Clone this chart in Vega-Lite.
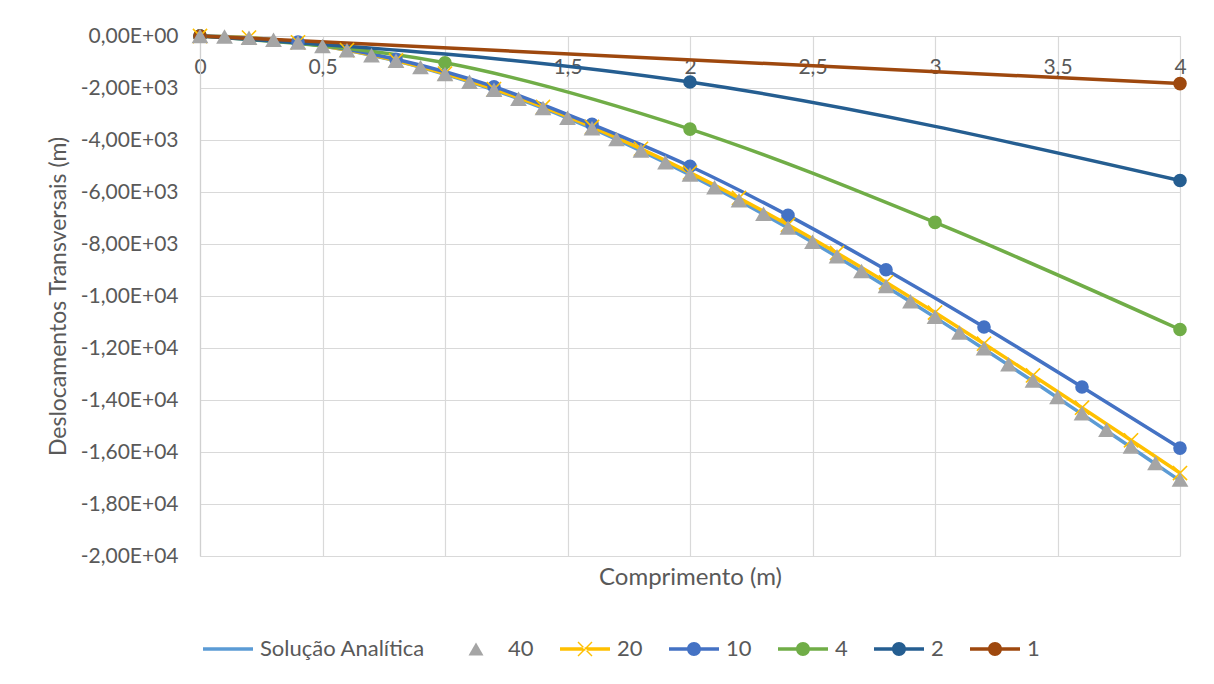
{
  "$schema": "https://vega.github.io/schema/vega-lite/v6.json",
  "width": 980,
  "height": 520,
  "autosize": {"type": "none"},
  "padding": {"left": 200, "top": 36, "right": 34, "bottom": 128},
  "background": "white",
  "config": {
    "view": {"stroke": null},
    "font": "Lato",
    "axis": {"gridColor": "#d9d9d9", "gridWidth": 1.2, "domainColor": "#d0d0d0", "domainWidth": 1.2, "labelColor": "#595959", "titleColor": "#595959", "titleFontWeight": "normal"}
  },
  "data": {"values": [
    {"series":"Solução Analítica","x":0,"y":0},{"series":"Solução Analítica","x":0.1,"y":-16},{"series":"Solução Analítica","x":0.2,"y":-63},{"series":"Solução Analítica","x":0.3,"y":-141},{"series":"Solução Analítica","x":0.4,"y":-248},{"series":"Solução Analítica","x":0.5,"y":-384},{"series":"Solução Analítica","x":0.6,"y":-548},{"series":"Solução Analítica","x":0.7,"y":-740},{"series":"Solução Analítica","x":0.8,"y":-958},{"series":"Solução Analítica","x":0.9,"y":-1201},{"series":"Solução Analítica","x":1.0,"y":-1470},{"series":"Solução Analítica","x":1.1,"y":-1762},{"series":"Solução Analítica","x":1.2,"y":-2078},{"series":"Solução Analítica","x":1.3,"y":-2416},{"series":"Solução Analítica","x":1.4,"y":-2776},{"series":"Solução Analítica","x":1.5,"y":-3156},{"series":"Solução Analítica","x":1.6,"y":-3557},{"series":"Solução Analítica","x":1.7,"y":-3977},{"series":"Solução Analítica","x":1.8,"y":-4415},{"series":"Solução Analítica","x":1.9,"y":-4871},{"series":"Solução Analítica","x":2.0,"y":-5344},{"series":"Solução Analítica","x":2.1,"y":-5833},{"series":"Solução Analítica","x":2.2,"y":-6337},{"series":"Solução Analítica","x":2.3,"y":-6855},{"series":"Solução Analítica","x":2.4,"y":-7388},{"series":"Solução Analítica","x":2.5,"y":-7933},{"series":"Solução Analítica","x":2.6,"y":-8490},{"series":"Solução Analítica","x":2.7,"y":-9058},{"series":"Solução Analítica","x":2.8,"y":-9636},{"series":"Solução Analítica","x":2.9,"y":-10225},{"series":"Solução Analítica","x":3.0,"y":-10822},{"series":"Solução Analítica","x":3.1,"y":-11427},{"series":"Solução Analítica","x":3.2,"y":-12039},{"series":"Solução Analítica","x":3.3,"y":-12658},{"series":"Solução Analítica","x":3.4,"y":-13282},{"series":"Solução Analítica","x":3.5,"y":-13911},{"series":"Solução Analítica","x":3.6,"y":-14544},{"series":"Solução Analítica","x":3.7,"y":-15181},{"series":"Solução Analítica","x":3.8,"y":-15819},{"series":"Solução Analítica","x":3.9,"y":-16460},{"series":"Solução Analítica","x":4.0,"y":-17101},
    {"series":"40","x":0,"y":0},{"series":"40","x":0.1,"y":-16},{"series":"40","x":0.2,"y":-63},{"series":"40","x":0.3,"y":-140},{"series":"40","x":0.4,"y":-247},{"series":"40","x":0.5,"y":-383},{"series":"40","x":0.6,"y":-546},{"series":"40","x":0.7,"y":-737},{"series":"40","x":0.8,"y":-955},{"series":"40","x":0.9,"y":-1197},{"series":"40","x":1.0,"y":-1465},{"series":"40","x":1.1,"y":-1757},{"series":"40","x":1.2,"y":-2071},{"series":"40","x":1.3,"y":-2409},{"series":"40","x":1.4,"y":-2768},{"series":"40","x":1.5,"y":-3148},{"series":"40","x":1.6,"y":-3547},{"series":"40","x":1.7,"y":-3966},{"series":"40","x":1.8,"y":-4403},{"series":"40","x":1.9,"y":-4858},{"series":"40","x":2.0,"y":-5330},{"series":"40","x":2.1,"y":-5818},{"series":"40","x":2.2,"y":-6321},{"series":"40","x":2.3,"y":-6838},{"series":"40","x":2.4,"y":-7369},{"series":"40","x":2.5,"y":-7913},{"series":"40","x":2.6,"y":-8469},{"series":"40","x":2.7,"y":-9036},{"series":"40","x":2.8,"y":-9613},{"series":"40","x":2.9,"y":-10200},{"series":"40","x":3.0,"y":-10796},{"series":"40","x":3.1,"y":-11400},{"series":"40","x":3.2,"y":-12011},{"series":"40","x":3.3,"y":-12629},{"series":"40","x":3.4,"y":-13252},{"series":"40","x":3.5,"y":-13880},{"series":"40","x":3.6,"y":-14512},{"series":"40","x":3.7,"y":-15147},{"series":"40","x":3.8,"y":-15784},{"series":"40","x":3.9,"y":-16423},{"series":"40","x":4.0,"y":-17062},
    {"series":"20","x":0,"y":0},{"series":"20","x":0.2,"y":-62},{"series":"20","x":0.4,"y":-244},{"series":"20","x":0.6,"y":-539},{"series":"20","x":0.8,"y":-941},{"series":"20","x":1.0,"y":-1445},{"series":"20","x":1.2,"y":-2042},{"series":"20","x":1.4,"y":-2729},{"series":"20","x":1.6,"y":-3496},{"series":"20","x":1.8,"y":-4340},{"series":"20","x":2.0,"y":-5253},{"series":"20","x":2.2,"y":-6229},{"series":"20","x":2.4,"y":-7262},{"series":"20","x":2.6,"y":-8345},{"series":"20","x":2.8,"y":-9473},{"series":"20","x":3.0,"y":-10638},{"series":"20","x":3.2,"y":-11834},{"series":"20","x":3.4,"y":-13056},{"series":"20","x":3.6,"y":-14297},{"series":"20","x":3.8,"y":-15550},{"series":"20","x":4.0,"y":-16810},
    {"series":"10","x":0,"y":0},{"series":"10","x":0.4,"y":-232},{"series":"10","x":0.8,"y":-895},{"series":"10","x":1.2,"y":-1950},{"series":"10","x":1.6,"y":-3400},{"series":"10","x":2.0,"y":-5010},{"series":"10","x":2.4,"y":-6900},{"series":"10","x":2.8,"y":-8990},{"series":"10","x":3.2,"y":-11190},{"series":"10","x":3.6,"y":-13500},{"series":"10","x":4.0,"y":-15850},
    {"series":"4","x":0,"y":0},{"series":"4","x":1.0,"y":-1030},{"series":"4","x":2.0,"y":-3580},{"series":"4","x":3.0,"y":-7170},{"series":"4","x":4.0,"y":-11290},
    {"series":"2","x":0,"y":0},{"series":"2","x":2.0,"y":-1770},{"series":"2","x":4.0,"y":-5560},
    {"series":"1","x":0,"y":0},{"series":"1","x":4.0,"y":-1830}
  ]},
  "encoding": {
    "x": {"field": "x", "type": "quantitative", "scale": {"domain": [0, 4], "nice": false, "zero": false},
      "axis": {"orient": "top", "values": [0, 0.5, 1, 1.5, 2, 2.5, 3, 3.5, 4], "ticks": false, "tickSize": 0, "labelPadding": -31, "labelBaseline": "middle", "labelFlush": false, "labelFontSize": 21,
        "labelExpr": "replace(toString(datum.value), '.', ',')",
        "title": "Comprimento (m)", "titleFontSize": 24, "titleX": 490, "titleY": 541, "titleBaseline": "middle", "titleAnchor": "middle"}},
    "y": {"field": "y", "type": "quantitative", "scale": {"domain": [-20000, 0], "nice": false, "zero": false},
      "axis": {"values": [-20000, -18000, -16000, -14000, -12000, -10000, -8000, -6000, -4000, -2000, 0], "ticks": false, "tickSize": 0, "labelPadding": 22, "labelFontSize": 21,
        "labelExpr": "datum.value == 0 ? '0,00E+00' : (datum.value < 0 ? '-' : '') + replace(format(abs(datum.value) / (abs(datum.value) >= 10000 ? 10000 : 1000), '.2f'), '.', ',') + (abs(datum.value) >= 10000 ? 'E+04' : 'E+03')",
        "title": "Deslocamentos Transversais (m)", "titleFontSize": 23, "titleX": -142, "titleY": 260, "titleBaseline": "middle", "titleAngle": -90}}
  },
  "layer": [
    {
      "transform": [{"filter": "datum.series != '40'"}],
      "mark": {"type": "line", "interpolate": "monotone", "strokeWidth": 3.5},
      "encoding": {
        "stroke": {"field": "series", "type": "nominal",
          "scale": {"domain": ["Solução Analítica", "20", "10", "4", "2", "1"], "range": ["#5B9BD5", "#FFC000", "#4472C4", "#70AD47", "#255E91", "#9E480E"]},
          "legend": null},
        "order": {"field": "x", "type": "quantitative"}
      }
    },
    {
      "transform": [{"filter": "datum.series == '10' || datum.series == '4' || datum.series == '2' || datum.series == '1'"}],
      "mark": {"type": "point", "shape": "circle", "filled": true, "opacity": 1, "size": 185},
      "encoding": {
        "fill": {"field": "series", "type": "nominal",
          "scale": {"domain": ["10", "4", "2", "1"], "range": ["#4472C4", "#70AD47", "#255E91", "#9E480E"]},
          "legend": null}
      }
    },
    {
      "transform": [{"filter": "datum.series == '20'"}],
      "mark": {"type": "point", "shape": "M-1,-1L1,1M-1,1L1,-1", "filled": false, "opacity": 1, "size": 200, "strokeWidth": 1.6, "color": "#FFC000"},
      "encoding": {}
    },
    {
      "transform": [{"filter": "datum.series == '40'"}],
      "mark": {"type": "point", "shape": "triangle-up", "filled": true, "opacity": 1, "size": 280, "color": "#A5A5A5"},
      "encoding": {}
    },
    {
      "transform": [{"filter": "datum.x == 0"}],
      "mark": {"type": "point", "filled": true, "opacity": 0},
      "encoding": {
        "color": {"field": "series", "type": "nominal",
          "scale": {"domain": ["Solução Analítica", "40", "20", "10", "4", "2", "1"], "range": ["#5B9BD5", "#A5A5A5", "#FFC000", "#4472C4", "#70AD47", "#255E91", "#9E480E"]},
          "legend": {"orient": "none", "legendX": 3, "legendY": 588, "direction": "horizontal", "title": null, "symbolSize": 2500, "symbolStrokeWidth": 0, "labelFontSize": 22, "labelColor": "#595959", "columnPadding": 26, "labelOffset": 7, "labelLimit": 0, "symbolOpacity": 1}},
        "shape": {"field": "series", "type": "nominal",
          "scale": {"domain": ["Solução Analítica", "40", "20", "10", "4", "2", "1"], "range": [
            "M-1,-0.07H1V0.07H-1Z",
            "M0,-0.26L0.3,0.26L-0.3,0.26Z",
            "M-1,-0.07H1V0.07H-1Z M-0.3,-0.26L0.26,0.3L0.3,0.26L-0.26,-0.3Z M-0.3,0.26L0.26,-0.3L0.3,-0.26L-0.26,0.3Z",
            "M-1,-0.07H1V0.07H-1Z M0.28,0A0.28,0.28 0 1,1 -0.28,0A0.28,0.28 0 1,1 0.28,0Z",
            "M-1,-0.07H1V0.07H-1Z M0.28,0A0.28,0.28 0 1,1 -0.28,0A0.28,0.28 0 1,1 0.28,0Z",
            "M-1,-0.07H1V0.07H-1Z M0.28,0A0.28,0.28 0 1,1 -0.28,0A0.28,0.28 0 1,1 0.28,0Z",
            "M-1,-0.07H1V0.07H-1Z M0.28,0A0.28,0.28 0 1,1 -0.28,0A0.28,0.28 0 1,1 0.28,0Z"
          ]},
          "legend": {"orient": "none", "legendX": 3, "legendY": 588, "direction": "horizontal", "title": null, "symbolSize": 2500, "symbolStrokeWidth": 0, "labelFontSize": 22, "labelColor": "#595959", "columnPadding": 26, "labelOffset": 7, "labelLimit": 0, "symbolOpacity": 1}}
      }
    }
  ]
}
